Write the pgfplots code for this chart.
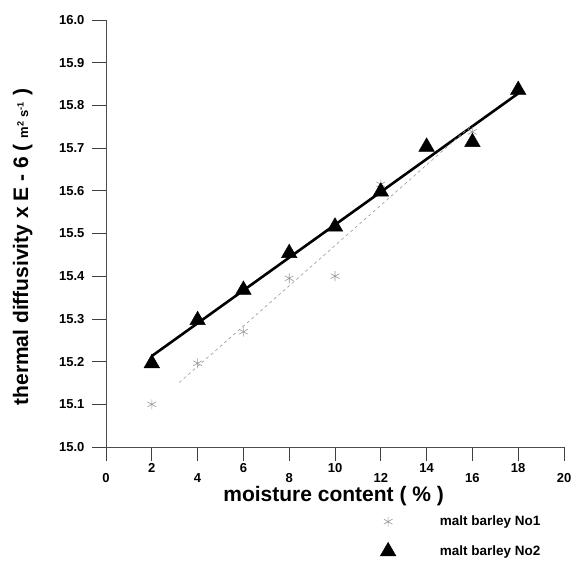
\documentclass[border=0pt]{standalone}
\usepackage{fontspec}
\setmainfont{Liberation Sans}
\usepackage{pgfplots}
\pgfplotsset{compat=1.18}
\begin{document}
\begin{tikzpicture}[x=1pt,y=1pt]
\begin{axis}[
  at={(106pt,115pt)}, anchor=south west,
  scale only axis, width=458pt, height=427pt,
  xmin=0, xmax=20, ymin=15, ymax=16,
  axis x line*=bottom, axis y line*=left,
  axis line style={draw=black!70, line width=0.9pt},
  xtick={0,2,4,6,8,10,12,14,16,18,20},
  xticklabels={0,\raisebox{9pt}{2},4,\raisebox{9pt}{6},8,\raisebox{9pt}{10},12,\raisebox{9pt}{14},16,\raisebox{9pt}{18},20},
  xticklabel style={anchor=base, yshift=-21pt},
  ytick={15,15.1,15.2,15.3,15.4,15.5,15.6,15.7,15.8,15.9,16},
  tick align=outside, major tick length=14pt,
  tick style={black!75, line width=0.8pt},
  /pgf/number format/assume math mode=true,
  yticklabel style={xshift=-4pt, /pgf/number format/.cd, fixed, fixed zerofill, precision=1},
  ticklabel style={font=\fontsize{13}{15}\selectfont\bfseries},
  xlabel={moisture content ( \% )},
  ylabel={thermal diffusivity x E - 6 ( {\fontsize{13}{15}\selectfont m\textsuperscript{2} s\textsuperscript{-1}} )},
  xlabel style={font=\fontsize{21}{23}\selectfont\bfseries, at={(axis description cs:0.497,-0.115)}, anchor=center},
  ylabel style={font=\fontsize{21}{23}\selectfont\bfseries, at={(axis description cs:-0.182,0.468)}, anchor=center},
  clip=false,
  legend style={at={(axis description cs:0.592,-0.2096)}, anchor=west, draw=none, fill=none,
    font=\fontsize{13.5}{15}\selectfont\bfseries, row sep=13pt,
    /tikz/every odd column/.append style={column sep=42pt}},
  legend cell align=left,
]
\addplot[only marks, mark=asterisk, mark size=5, color=black!40, mark options={line width=0.6pt}]
  coordinates {(2,15.10) (4,15.196) (6,15.27) (8,15.395) (10,15.40) (12,15.615) (16,15.738)};
\addlegendentry{malt barley No1}
\addplot[only marks, mark=triangle*, mark size=9, color=black]
  coordinates {(2,15.196) (4,15.297) (6,15.368) (8,15.454) (10,15.516) (12,15.598) (14,15.703) (16,15.714) (18,15.836)};
\addlegendentry{malt barley No2}
\addplot[forget plot, black, line width=2.6pt] coordinates {(2,15.213) (18,15.828)};
\addplot[forget plot, black!40, line width=0.6pt, dash pattern=on 3pt off 3pt] coordinates {(3.2,15.151) (16,15.755)};
\end{axis}
\pgfresetboundingbox
\useasboundingbox (0,0) rectangle (572,562);
\end{tikzpicture}
\end{document}
